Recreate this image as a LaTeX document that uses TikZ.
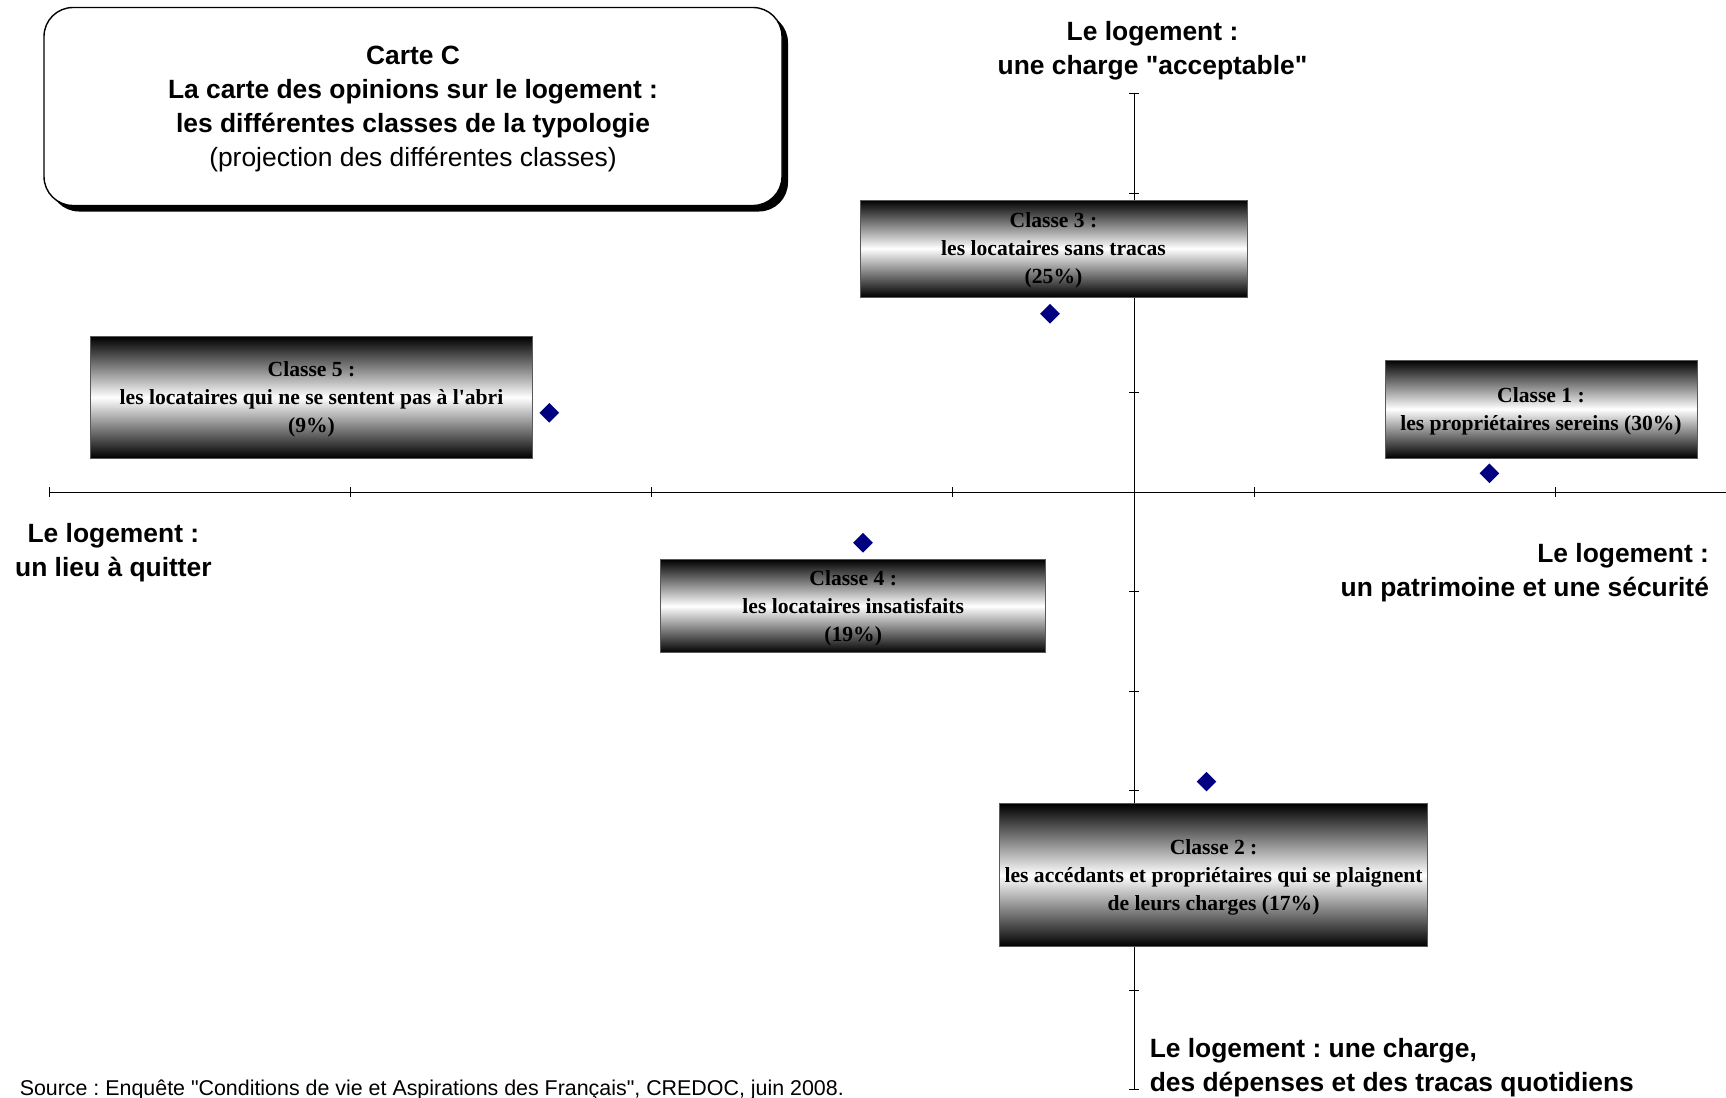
\documentclass[tikz,border=0pt]{standalone}
\usepackage{fontspec}
\setmainfont{Liberation Serif}
\setsansfont{Liberation Sans}
\usetikzlibrary{shapes.geometric,shadows}
\definecolor{navy}{RGB}{0,0,128}
\frenchspacing
\newcommand\decal{\rule{0pt}{9.7pt}}
\tikzset{
  classe/.style={draw=gray!70!black,line width=0.5pt,top color=black,bottom color=black,middle color=white,
    align=center,inner sep=0pt,font=\bfseries\fontsize{10.8}{14}\selectfont},
  point/.style={diamond,fill=navy,inner sep=0pt,minimum size=10pt},
  axe/.style={font=\sffamily\bfseries\fontsize{13.2}{17}\selectfont},
  tick/.style={line width=0.5pt}
}
\begin{document}
\begin{tikzpicture}[x=0.5pt,y=-0.5pt]
  \useasboundingbox (0,0) rectangle (1726,1098);
  \coordinate (xl) at (49,492);
  \coordinate (xr) at (1726,492);
  \coordinate (yt) at (1134,93.6);
  \coordinate (yb) at (1134,1089.6);
  \begin{scope}[line width=0.5pt]
    \draw (xl) -- (xr);
    \draw (yt) -- (yb);
    \foreach \i in {0,...,5}
      \draw[tick] ({49+301.3*\i},487) -- ++(0,10);
    \foreach \k in {0,...,10}
      \draw[tick] (1129,{93.6+99.6*\k}) -- ++(10,0);
  \end{scope}
  \node (titre) [draw,line width=0.7pt,fill=white,rounded corners=14.5pt,minimum width=369pt,minimum height=99pt,
    align=center,font=\sffamily\fontsize{13.2}{17}\selectfont,
    drop shadow={shadow xshift=3pt,shadow yshift=-3pt,fill=black,opacity=1}]
    at (413,106.5) {\rule{0pt}{12pt}\bfseries Carte C\\\bfseries La carte des opinions sur le logement :\\
    \bfseries les différentes classes de la typologie\\(projection des différentes classes)};
  \node (haut) [axe,align=center] at (1152.5,50.5) {Le logement :\\une charge \textquotedbl acceptable\textquotedbl};
  \node (gauche) [axe,align=center] at (113.4,552.5) {Le logement :\\un lieu à quitter};
  \node (droite) [axe,align=right,anchor=east] at (1716,572.2) {Le logement :\\un patrimoine et une sécurité};
  \node (bas) [axe,align=left,anchor=west] at (1142.7,1067.5) {Le logement : une charge,\\des dépenses et des tracas quotidiens};
  \node (source) [anchor=west,font=\sffamily\fontsize{10.7}{13}\selectfont] at (12.7,1090)
    {Source : Enquête \textquotedbl Conditions de vie et Aspirations des Français\textquotedbl, CREDOC, juin 2008.};
  \node (c3) [classe,minimum width=193.5pt,minimum height=48.5pt] at (1053.5,248.5)
    {\decal Classe 3 :\\les locataires sans tracas\\(25\%)};
  \node (c5) [classe,minimum width=221.25pt,minimum height=60.6pt] at (311.5,397.4)
    {\decal Classe 5 :\\les locataires qui ne se sentent pas à l\textquotesingle abri\\(9\%)};
  \node (c1) [classe,minimum width=156pt,minimum height=49pt] at (1541,409)
    {\decal Classe 1 :\\les propriétaires sereins (30\%)};
  \node (c4) [classe,minimum width=192.6pt,minimum height=46.8pt] at (853.2,606)
    {\decal Classe 4 :\\les locataires insatisfaits\\(19\%)};
  \node (c2) [classe,minimum width=214.1pt,minimum height=71.5pt] at (1213.6,875.2)
    {\decal Classe 2 :\\les accédants et propriétaires qui se plaignent\\de leurs charges (17\%)};
  \node (p3) [point] at (1050,313.7) {};
  \node (p5) [point] at (549.3,412.8) {};
  \node (p1) [point] at (1489.4,473.3) {};
  \node (p4) [point] at (863,542.7) {};
  \node (p2) [point] at (1206.5,781.6) {};
\end{tikzpicture}
\end{document}
